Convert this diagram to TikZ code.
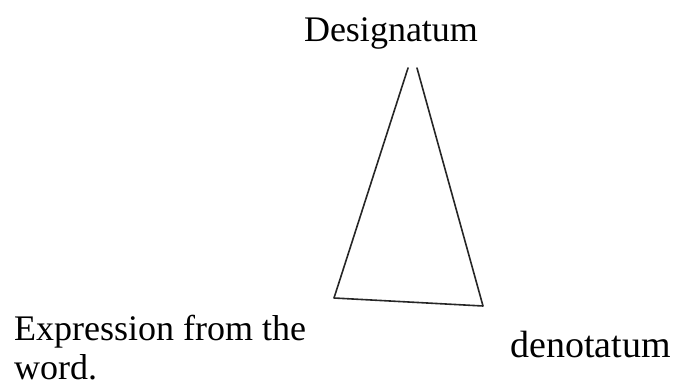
\documentclass[tikz,border=0pt]{standalone}
\usepackage{fontspec}
\setmainfont{Liberation Serif}
\begin{document}
\begin{tikzpicture}[x=1pt,y=-1pt,
  lbl/.style={inner sep=0pt,font=\fontsize{36}{42}\selectfont},
  edge/.style={line width=1.6pt,line join=round,line cap=round,black!85}]
\useasboundingbox (0,0) rectangle (677,387);
\node[lbl,anchor=base] (des) at (391,42) {Designatum};
\node[lbl,anchor=base west] (exp) at (14,340) {Expression from the};
\node[lbl,anchor=base west] (wrd) at (14,379) {word.};
\node[lbl,anchor=base west,font=\fontsize{38}{44}\selectfont] (den) at (510,357) {denotatum};
\coordinate (tl) at (408,68);
\coordinate (tr) at (417,68);
\coordinate (bl) at (334,298);
\coordinate (br) at (483,306);
\draw[edge] (tl) -- (bl) -- (br) -- (tr);
\end{tikzpicture}
\end{document}
